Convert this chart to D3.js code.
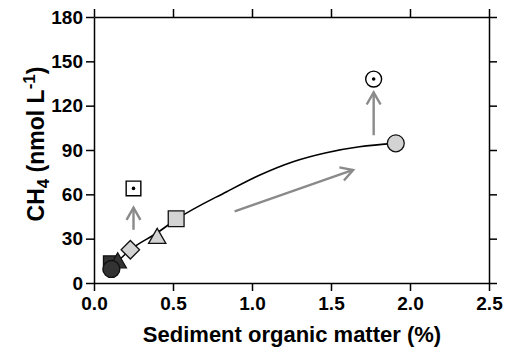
<!DOCTYPE html>
<html lang="en">
<head>
<meta charset="UTF-8">
<title>CH4 vs sediment organic matter</title>
<script src="https://d3js.org/d3.v7.min.js"></script>
<style>
    body { margin: 0; background: #fff; }
    text { font-family: "Liberation Sans", Arial, sans-serif; font-weight: bold; fill: #000; }
    .axis path, .axis line { stroke: #000; stroke-width: 1.5; }
</style>
</head>
<body>
<svg width="506" height="347"></svg>
<script>
// measured points (organic matter %, CH4 nmol/L)
const pointShape = ["square", "triangle", "circle", "diamond", "triangle", "square", "circle"];
const pointX = [0.11, 0.15, 0.11, 0.23, 0.40, 0.52, 1.91];
const pointY = [13, 13, 9.5, 22.5, 29.5, 43.5, 94.5];
const pointFill = ["#333", "#333", "#333", "#d3d3d3", "#d3d3d3", "#d3d3d3", "#d3d3d3"];

// open markers with a dot
const openShape = ["square", "circle"];
const openX = [0.25, 1.77];
const openY = [64, 138];

// fitted curve
const fitX = [0.13, 0.23, 0.40, 0.52, 0.84, 1.05, 1.26, 1.47, 1.68, 1.91];
const fitY = [12.5, 22.5, 34, 43, 61.8, 73.1, 82.1, 88.2, 92.2, 94.5];

// grey arrows [x0, y0, x1, y1]
const arrows = [
    [0.25, 36, 0.25, 51],
    [1.77, 100, 1.77, 129],
    [0.89, 48.5, 1.64, 76.5]
];

const xTicks = [0, 0.5, 1, 1.5, 2, 2.5];
const yTicks = [0, 30, 60, 90, 120, 150, 180];

const svg = d3.select("svg");
const x = d3.scaleLinear().domain([0, 2.5]).range([94, 489]);
const y = d3.scaleLinear().domain([0, 180]).range([283, 17]);

// axes on all four sides, outward ticks
svg.append("g").attr("class", "axis")
    .attr("transform", `translate(0,${y(0)})`)
    .call(d3.axisBottom(x).tickValues(xTicks).tickSize(8).tickSizeOuter(0).tickFormat(d3.format(".1f")))
    .call(g => g.selectAll("text").attr("font-size", 19).attr("dy", 16).attr("fill", "#000"));

svg.append("g").attr("class", "axis")
    .attr("transform", `translate(0,${y(180)})`)
    .call(d3.axisTop(x).tickValues(xTicks).tickSize(8).tickSizeOuter(0).tickFormat(""));

svg.append("g").attr("class", "axis")
    .attr("transform", `translate(${x(0)},0)`)
    .call(d3.axisLeft(y).tickValues(yTicks).tickSize(8).tickSizeOuter(0))
    .call(g => g.selectAll("text").attr("font-size", 19).attr("x", -11).attr("fill", "#000"));

svg.append("g").attr("class", "axis")
    .attr("transform", `translate(${x(2.5)},0)`)
    .call(d3.axisRight(y).tickValues(yTicks).tickSize(8).tickSizeOuter(0).tickFormat(""));

svg.selectAll(".axis text").style("font-weight", "bold");

// axis titles
svg.append("text")
    .attr("x", 292).attr("y", 342)
    .attr("text-anchor", "middle")
    .attr("font-size", 22)
    .text("Sediment organic matter (%)");

const yl = svg.append("text")
    .attr("transform", "translate(44,144) rotate(-90)")
    .attr("text-anchor", "middle")
    .attr("font-size", 23);
yl.append("tspan").text("CH");
yl.append("tspan").attr("font-size", 17).attr("dy", 5).text("4");
yl.append("tspan").attr("dy", -5).text(" (nmol L");
yl.append("tspan").attr("font-size", 17).attr("dy", -9).text("-1");
yl.append("tspan").attr("dy", 9).text(")");

// fitted curve
const fit = fitX.map((v, i) => [v, fitY[i]]);
svg.append("path")
    .datum(fit)
    .attr("fill", "none")
    .attr("stroke", "#000")
    .attr("stroke-width", 1.6)
    .attr("d", d3.line().x(d => x(d[0])).y(d => y(d[1])).curve(d3.curveMonotoneX));

// arrows
const grey = "#8a8a8a";
arrows.forEach(a => {
    const x0 = x(a[0]), y0 = y(a[1]), x1 = x(a[2]), y1 = y(a[3]);
    const ang = Math.atan2(y1 - y0, x1 - x0);
    const hl = 14, spread = 0.52;
    svg.append("line")
        .attr("x1", x0).attr("y1", y0).attr("x2", x1).attr("y2", y1)
        .attr("stroke", grey).attr("stroke-width", 2.4);
    svg.append("path")
        .attr("d", `M${x1 - hl * Math.cos(ang - spread)},${y1 - hl * Math.sin(ang - spread)}L${x1},${y1}L${x1 - hl * Math.cos(ang + spread)},${y1 - hl * Math.sin(ang + spread)}`)
        .attr("fill", "none").attr("stroke", grey).attr("stroke-width", 2.4);
});

// markers
const symbolFor = {
    circle: [d3.symbolCircle, 225, 0],
    square: [d3.symbolSquare, 250, 0],
    diamond: [d3.symbolSquare, 170, 45],
    triangle: [d3.symbolTriangle, 130, 0]
};

pointShape.forEach((s, i) => {
    const [type, size, rot] = symbolFor[s];
    const dy = s === "triangle" ? -1 : 0;
    svg.append("path")
        .attr("d", d3.symbol().type(type).size(size)())
        .attr("transform", `translate(${x(pointX[i])},${y(pointY[i]) + dy}) rotate(${rot})`)
        .attr("fill", pointFill[i])
        .attr("stroke", "#111")
        .attr("stroke-width", 1.3);
});

openShape.forEach((s, i) => {
    const type = s === "circle" ? d3.symbolCircle : d3.symbolSquare;
    const size = s === "circle" ? 200 : 215;
    const cx = x(openX[i]), cy = y(openY[i]);
    svg.append("path")
        .attr("d", d3.symbol().type(type).size(size)())
        .attr("transform", `translate(${cx},${cy})`)
        .attr("fill", "#fff").attr("stroke", "#000").attr("stroke-width", 1.4);
    svg.append("circle")
        .attr("cx", cx).attr("cy", cy).attr("r", 1.8).attr("fill", "#000");
});
</script>
</body>
</html>
